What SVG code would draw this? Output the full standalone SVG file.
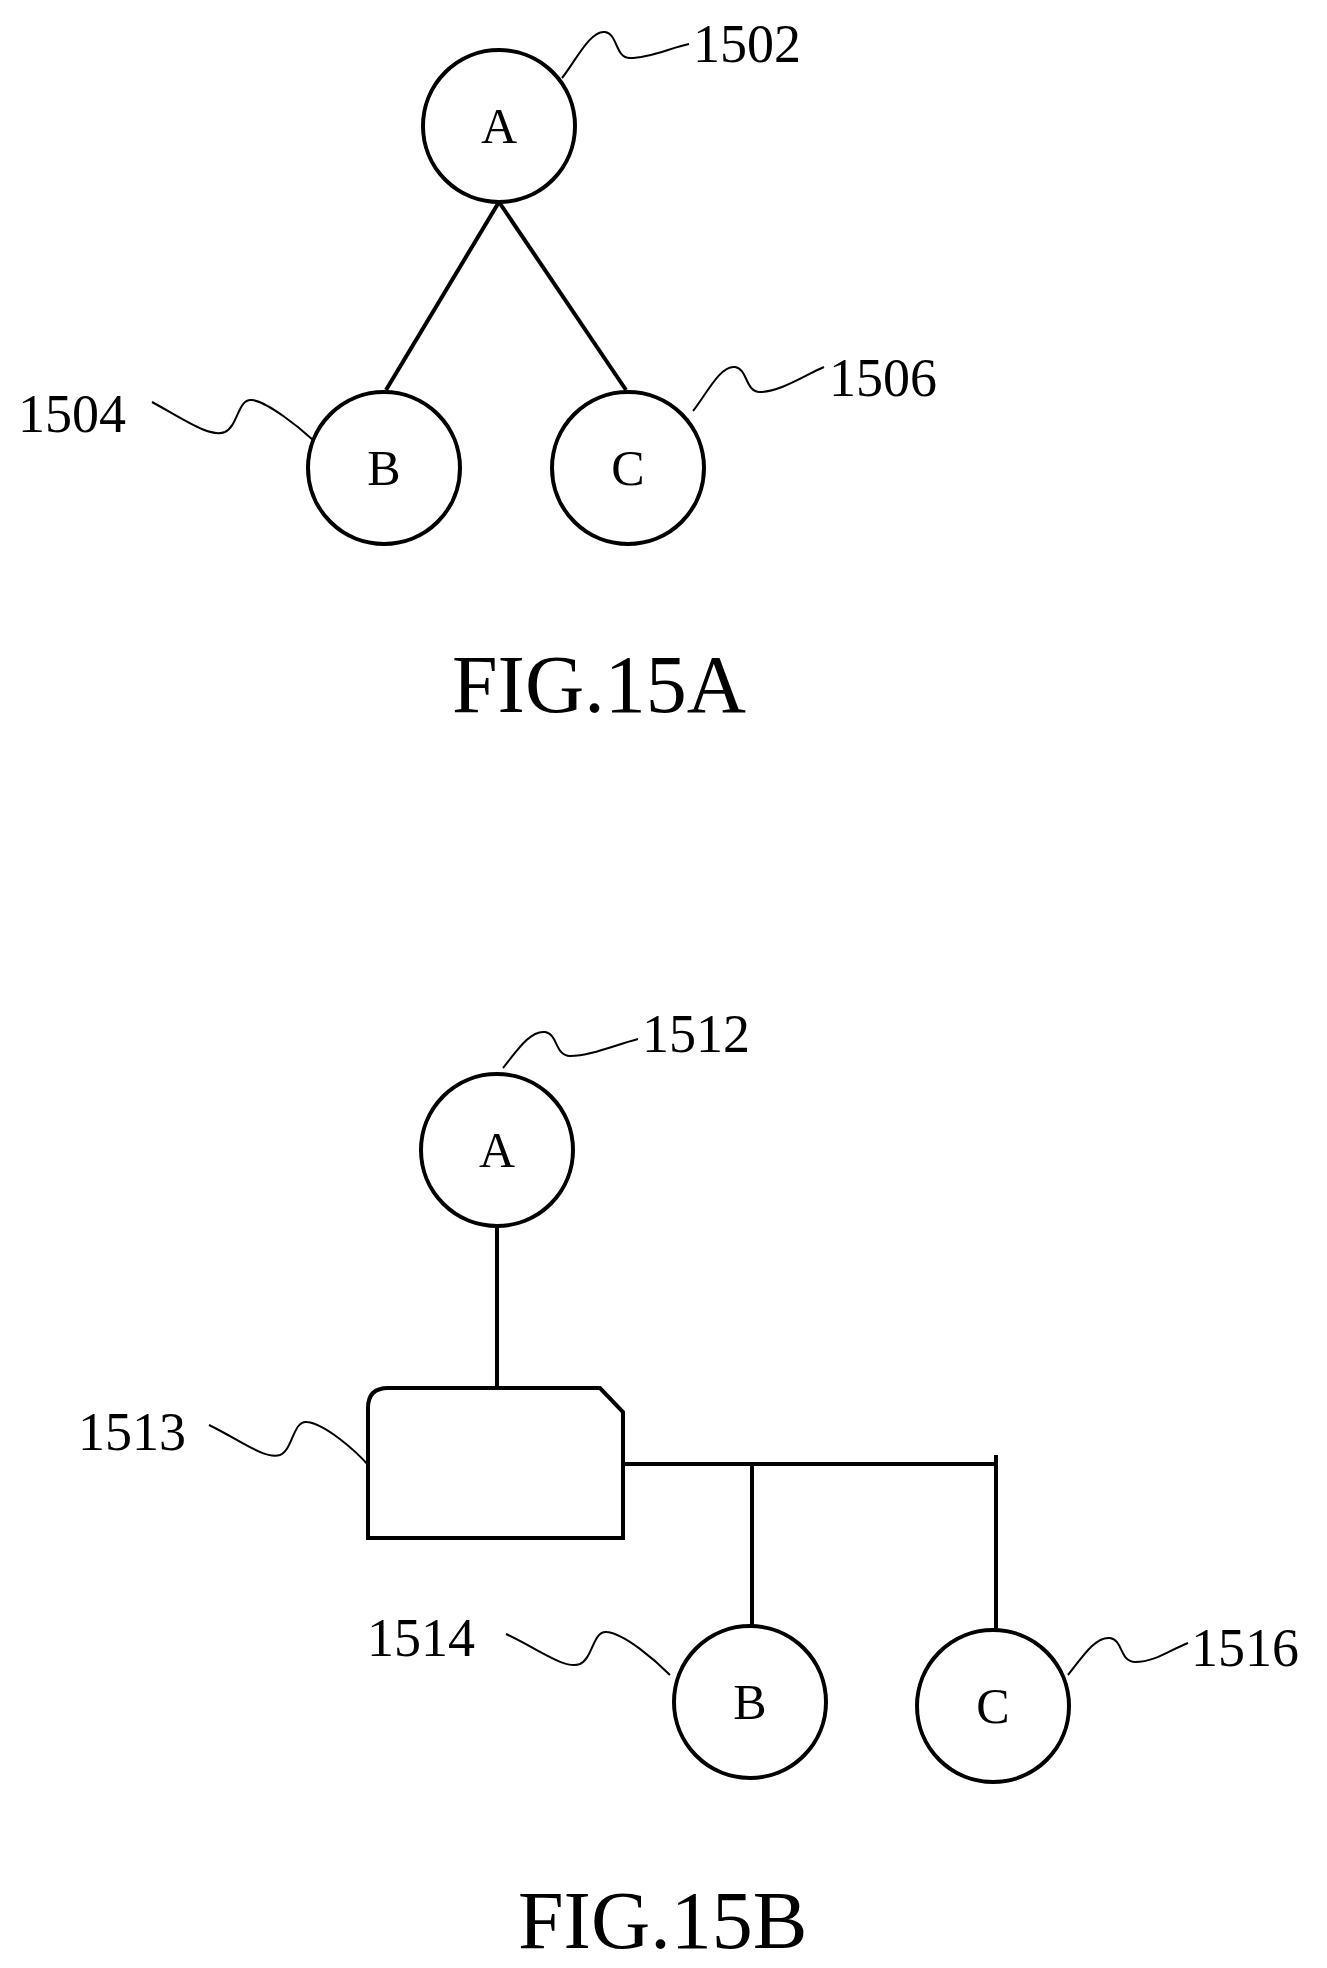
<svg xmlns="http://www.w3.org/2000/svg" width="1327" height="1968" viewBox="0 0 1327 1968">
<style>
.n{fill:#fff;stroke:#000;stroke-width:4}
.e{fill:none;stroke:#000;stroke-width:4}
.l{fill:none;stroke:#000;stroke-width:2}
text{font-family:"Liberation Serif","Times New Roman",serif;fill:#000}
.t{font-size:50px;text-anchor:middle}
.r{font-size:54px}
.f{font-size:82px}
</style>
<rect width="1327" height="1968" fill="#fff"/>
<g id="connectors">
<line class="e" x1="499" y1="202" x2="386" y2="390"/>
<line class="e" x1="499" y1="202" x2="626" y2="390"/>
<line class="e" x1="497" y1="1226" x2="497" y2="1390"/>
<polyline class="e" points="623,1464 996,1464"/>
<line class="e" x1="996" y1="1455" x2="996" y2="1630"/>
<line class="e" x1="752" y1="1464" x2="752" y2="1626"/>
</g>
<g id="leaders">
<path class="l" d="M562,78 C575,62 590,30 605,32 C618,34 615,58 630,58 C650,58 670,48 689,44"/>
<path class="l" d="M152,402 C185,420 210,438 225,432 C238,426 238,398 252,400 C268,402 300,428 313,440"/>
<path class="l" d="M693,411 C706,395 720,365 735,367 C748,369 745,392 760,392 C780,392 805,375 824,367"/>
<path class="l" d="M503,1068 C516,1052 530,1030 545,1032 C558,1034 555,1056 570,1056 C590,1056 615,1045 638,1039"/>
<path class="l" d="M209,1425 C240,1440 265,1460 280,1455 C293,1450 293,1420 307,1422 C325,1424 355,1450 369,1466"/>
<path class="l" d="M506,1634 C540,1650 565,1670 580,1664 C593,1658 593,1630 607,1632 C625,1634 655,1660 670,1675"/>
<path class="l" d="M1068,1675 C1081,1659 1095,1636 1110,1638 C1123,1640 1120,1662 1135,1662 C1155,1662 1170,1650 1188,1643"/>
</g>
<g id="n1502"><circle class="n" cx="499" cy="126" r="76"/><text class="t" x="499" y="143">A</text></g>
<g id="n1504"><circle class="n" cx="384" cy="468" r="76"/><text class="t" x="384" y="485">B</text></g>
<g id="n1506"><circle class="n" cx="628" cy="468" r="76"/><text class="t" x="628" y="485">C</text></g>
<g id="n1512"><circle class="n" cx="497" cy="1150" r="76"/><text class="t" x="497" y="1167">A</text></g>
<g id="n1513"><path class="n" d="M368,1538 L368,1408 Q368,1388 388,1388 L600,1388 L623,1412 L623,1538 Z"/></g>
<g id="n1514"><circle class="n" cx="750" cy="1702" r="76"/><text class="t" x="750" y="1719">B</text></g>
<g id="n1516"><circle class="n" cx="993" cy="1706" r="76"/><text class="t" x="993" y="1723">C</text></g>
<g id="labels">
<text class="r" x="693" y="62">1502</text>
<text class="r" x="18" y="432">1504</text>
<text class="r" x="829" y="396">1506</text>
<text class="r" x="642" y="1052">1512</text>
<text class="r" x="78" y="1450">1513</text>
<text class="r" x="367" y="1656">1514</text>
<text class="r" x="1191" y="1666">1516</text>
<text class="f" x="452" y="712">FIG.15A</text>
<text class="f" x="518" y="1948">FIG.15B</text>
</g>
</svg>
